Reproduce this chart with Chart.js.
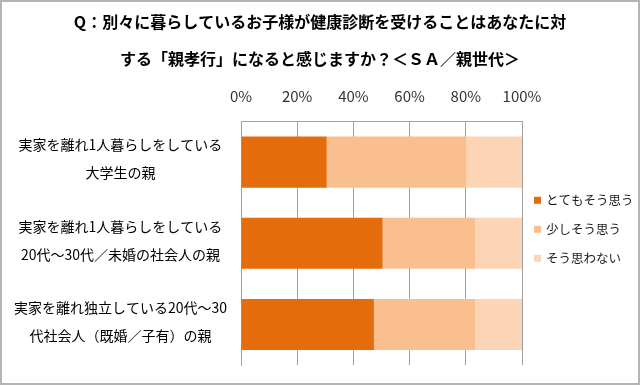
<!DOCTYPE html>
<html>
<head>
<meta charset="utf-8">
<script src="https://cdn.jsdelivr.net/npm/chart.js@4"></script>
<style>
  html, body { margin: 0; padding: 0; background: #fff; }
  #box { width: 640px; height: 385px; box-sizing: border-box; border: 2px solid #b4b4b4; }
  #box canvas { display: block; }
</style>
</head>
<body>
<div id="box"><canvas id="chart" width="636" height="381"></canvas></div>
<script>
const titleLines = [
  "Q：別々に暮らしているお子様が健康診断を受けることはあなたに対",
  "する「親孝行」になると感じますか？＜ＳＡ／親世代＞"
];
const categories = [
  ["実家を離れ1人暮らしをしている", "大学生の親"],
  ["実家を離れ1人暮らしをしている", "20代～30代／未婚の社会人の親"],
  ["実家を離れ独立している20代～30", "代社会人（既婚／子有）の親"]
];
const seriesNames = ["とてもそう思う", "少しそう思う", "そう思わない"];
const strongly = [30.5, 50.4, 47.3];
const somewhat = [49.8, 32.9, 36.0];
const notAtAll = [19.7, 16.7, 16.7];
const colors = ["#E46C0A", "#F9BF8F", "#FBD5B5"];

const fontFamily = "'Noto Sans CJK JP', 'Noto Sans', sans-serif";

// legend drawn by hand so it sits like the original (right side, small squares)
const sideLegend = {
  id: "sideLegend",
  afterDraw(chart) {
    const ctx = chart.ctx;
    const area = chart.chartArea;
    const step = 29;
    const sets = chart.data.datasets;
    const mid = (area.top + area.bottom) / 2 - 14;
    const x = area.right + 12;
    ctx.save();
    ctx.font = "12.5px " + fontFamily;
    ctx.textBaseline = "middle";
    ctx.textAlign = "left";
    sets.forEach((ds, i) => {
      const y = mid + (i - (sets.length - 1) / 2) * step;
      ctx.fillStyle = ds.backgroundColor;
      ctx.fillRect(x, y - 3.5, 7, 7);
      ctx.fillStyle = "#1a1a1a";
      ctx.fillText(ds.label, x + 12, y);
    });
    ctx.restore();
  },
};

new Chart(document.getElementById("chart").getContext("2d"), {
  type: "bar",
  data: {
    labels: categories,
    datasets: [strongly, somewhat, notAtAll].map((values, i) => ({
      label: seriesNames[i],
      data: values,
      backgroundColor: colors[i],
      borderWidth: 0,
      categoryPercentage: 0.63,
      barPercentage: 1.0,
    })),
  },
  plugins: [sideLegend],
  options: {
    indexAxis: "y",
    responsive: false,
    animation: false,
    layout: { padding: { left: 0, right: 0, top: 0, bottom: 18 } },
    plugins: {
      title: {
        display: true,
        text: titleLines,
        color: "#000",
        font: { family: fontFamily, size: 16, weight: "bold", lineHeight: 2.3 },
        padding: { top: 2, bottom: 0 },
      },
      legend: { display: false },
      tooltip: { enabled: false },
    },
    scales: {
      x: {
        position: "top",
        stacked: true,
        min: 0,
        max: 100,
        afterFit: (scale) => { scale.height = 44; },
        ticks: {
          stepSize: 20,
          color: "#333",
          padding: 16,
          maxRotation: 0,
          font: { family: fontFamily, size: 15 },
          callback: (v) => v + "%",
        },
        grid: { color: "#a0a0a0", drawTicks: false },
        border: { color: "#a0a0a0" },
      },
      y: {
        stacked: true,
        afterFit: (scale) => {
          scale.width = 239;
          scale.paddingTop = 0;
          scale.paddingBottom = 0;
        },
        ticks: {
          color: "#000",
          crossAlign: "center",
          padding: 6,
          labelOffset: -3,
          font: { family: fontFamily, size: 14, lineHeight: 2.0 },
        },
        grid: { display: false },
        border: { color: "#a0a0a0" },
      },
      // empty box on the right that leaves room for the legend
      legendSpace: {
        type: "category",
        position: "right",
        afterFit: (scale) => { scale.width = 116; },
        ticks: { display: false },
        grid: { display: false },
        border: { display: false },
      },
    },
  },
});
</script>
</body>
</html>
